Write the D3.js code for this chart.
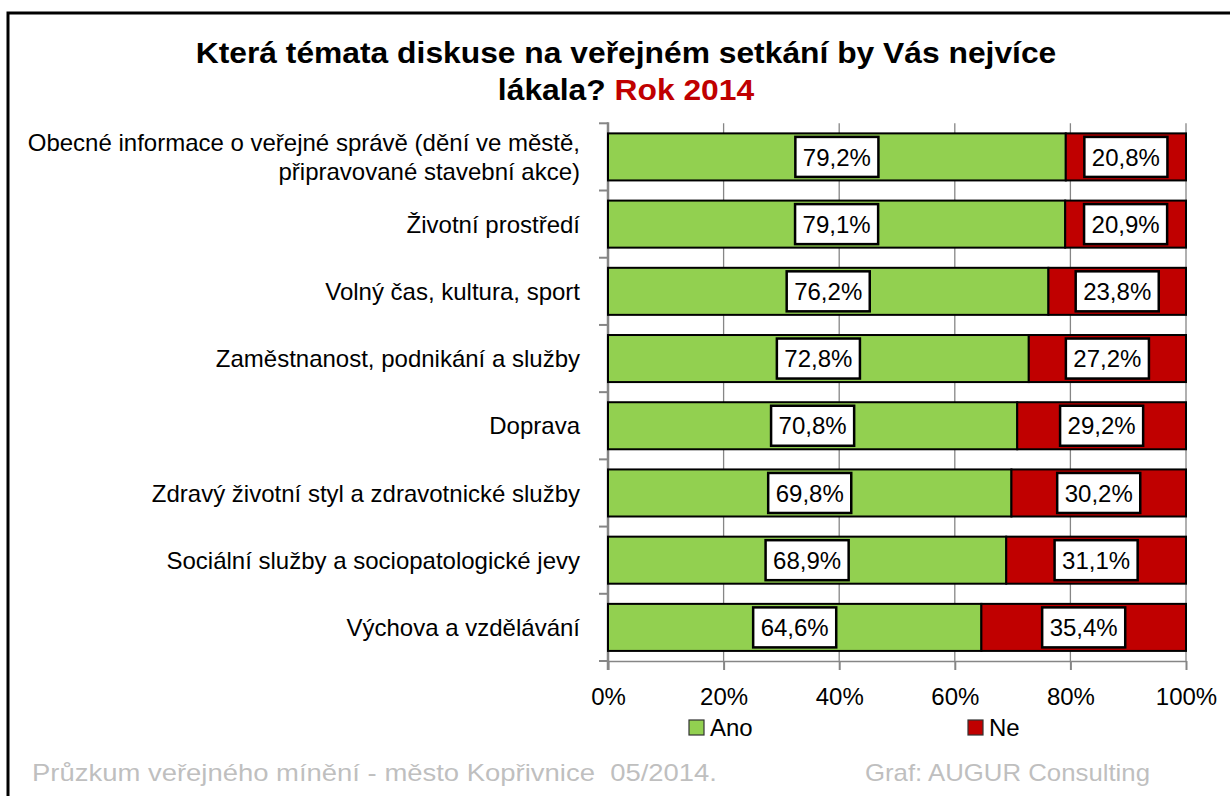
<!DOCTYPE html>
<html>
<head>
<meta charset="utf-8">
<script src="https://cdn.jsdelivr.net/npm/d3@7"></script>
<style>
  html, body { margin: 0; padding: 0; background: #fff; }
  svg { display: block; }
  text { font-family: "Liberation Sans", Arial, sans-serif; }
</style>
</head>
<body>
<svg id="chart" width="1230" height="796"></svg>
<script>
// ---- data ----
const categories = [
  "Obecné informace o veřejné správě (dění ve městě,|připravované stavební akce)",
  "Životní prostředí",
  "Volný čas, kultura, sport",
  "Zaměstnanost, podnikání a služby",
  "Doprava",
  "Zdravý životní styl a zdravotnické služby",
  "Sociální služby a sociopatologické jevy",
  "Výchova a vzdělávání"
];
const ano = [79.2, 79.1, 76.2, 72.8, 70.8, 69.8, 68.9, 64.6];
const ne  = [20.8, 20.9, 23.8, 27.2, 29.2, 30.2, 31.1, 35.4];
const seriesNames = ["Ano", "Ne"];
const seriesColors = ["#92d050", "#c00000"];
const xTicks = [0, 20, 40, 60, 80, 100];
const titleLine1 = "Která témata diskuse na veřejném setkání by Vás nejvíce";
const titleLine2a = "lákala? ";
const titleLine2b = "Rok 2014";
const footerLeft = "Průzkum veřejného mínění - město Kopřivnice  05/2014.";
const footerRight = "Graf: AUGUR Consulting";

// ---- layout ----
const svg = d3.select("#chart");
const pL = 608, pR = 1186, pT = 123.3, pB = 661;
const x = d3.scaleLinear().domain([0, 100]).range([pL, pR]);
const y = d3.scaleBand().domain(categories).range([pT, pB]).paddingInner(0.3).paddingOuter(0.15);
const fmt = v => v.toFixed(1).replace(".", ",") + "%";

// frame
svg.append("path").attr("d", `M8,796 L8,13 L1230,13`)
  .attr("fill", "none").attr("stroke", "#000").attr("stroke-width", 3);

// title
const title = svg.append("text").attr("text-anchor", "middle")
  .attr("transform", "translate(626,0) scale(1.06,1)")
  .style("font-weight", "bold").style("font-size", "30px");
title.append("tspan").attr("x", 0).attr("y", 63).text(titleLine1);
const t2 = title.append("tspan").attr("x", 0).attr("y", 100);
t2.append("tspan").text(titleLine2a);
t2.append("tspan").attr("fill", "#c00000").text(titleLine2b);

// gridlines
svg.append("g").selectAll("line").data(xTicks.filter(d => d > 0)).join("line")
  .attr("x1", d => x(d)).attr("x2", d => x(d))
  .attr("y1", pT).attr("y2", pB)
  .attr("stroke", "#868686").attr("stroke-width", 1.3);

// x axis
const xAxis = svg.append("g").attr("transform", `translate(0,${pB})`)
  .call(d3.axisBottom(x).tickValues(xTicks).tickSize(9).tickSizeOuter(0).tickPadding(18).tickFormat(d => d + "%"));
xAxis.select(".domain").attr("stroke", "#868686").attr("stroke-width", 1.5);
xAxis.selectAll(".tick line").attr("stroke", "#868686").attr("stroke-width", 2);
xAxis.selectAll(".tick text").attr("fill", "#000").style("font-size", "24px")
  .style("font-family", "'Liberation Sans', Arial, sans-serif");

// y axis line and ticks at band boundaries
const boundaries = d3.range(categories.length + 1).map(i => pT + i * (pB - pT) / categories.length);
svg.append("g").selectAll("line").data(boundaries).join("line")
  .attr("x1", pL - 9).attr("x2", pL).attr("y1", d => d).attr("y2", d => d)
  .attr("stroke", "#868686").attr("stroke-width", 2);
svg.append("line").attr("x1", pL).attr("x2", pL).attr("y1", pT - 1).attr("y2", pB + 9)
  .attr("stroke", "#868686").attr("stroke-width", 2.5);

// category labels
const catG = svg.append("g").selectAll("text").data(categories).join("text")
  .attr("text-anchor", "end").style("font-size", "24px").attr("fill", "#000");
catG.each(function(d) {
  const lines = d.split("|");
  const cy = y(d) + y.bandwidth() / 2;
  const lh = 29;
  lines.forEach((ln, i) => {
    d3.select(this).append("tspan").attr("x", 580)
      .attr("y", cy + (i - (lines.length - 1) / 2) * lh + 8.7).text(ln);
  });
});

// bars
const stacked = categories.map((c, i) => ({ c, segs: [
  { s: 0, x0: 0, x1: ano[i], v: ano[i] },
  { s: 1, x0: ano[i], x1: ano[i] + ne[i], v: ne[i] }
]}));
const barG = svg.append("g");
stacked.forEach(row => {
  barG.selectAll(null).data(row.segs).join("rect")
    .attr("x", d => x(d.x0)).attr("width", d => x(d.x1) - x(d.x0))
    .attr("y", y(row.c)).attr("height", y.bandwidth())
    .attr("fill", d => seriesColors[d.s]).attr("stroke", "#000").attr("stroke-width", 2);
});

// data labels
const lblG = svg.append("g");
stacked.forEach(row => {
  row.segs.forEach(seg => {
    const cx = (x(seg.x0) + x(seg.x1)) / 2;
    const cy = y(row.c) + y.bandwidth() / 2;
    const g = lblG.append("g");
    const r = g.append("rect");
    const t = g.append("text").attr("x", cx).attr("y", cy + 8.6).attr("text-anchor", "middle")
      .style("font-size", "24px").attr("fill", "#000").text(fmt(seg.v));
    const w = t.node().getComputedTextLength() + 15;
    r.attr("x", cx - w / 2).attr("y", cy - 20).attr("width", w).attr("height", 40)
      .attr("fill", "#fff").attr("stroke", "#000").attr("stroke-width", 2.5);
  });
});

// legend
const legX = [689, 968];
seriesNames.forEach((n, i) => {
  svg.append("rect").attr("x", legX[i]).attr("y", 720).attr("width", 15).attr("height", 15)
    .attr("fill", seriesColors[i]).attr("stroke", "#333").attr("stroke-width", 1.2);
  svg.append("text").attr("x", legX[i] + 21).attr("y", 736).style("font-size", "24px")
    .attr("fill", "#000").text(n);
});

// footer
svg.append("text").attr("x", 32).attr("y", 781).style("font-size", "24px")
  .style("white-space", "pre").attr("textLength", 685).attr("lengthAdjust", "spacingAndGlyphs")
  .attr("fill", "#bfbfbf").text(footerLeft);
svg.append("text").attr("x", 865).attr("y", 781).style("font-size", "24px")
  .attr("textLength", 285).attr("lengthAdjust", "spacingAndGlyphs")
  .attr("fill", "#bfbfbf").text(footerRight);
</script>
</body>
</html>
